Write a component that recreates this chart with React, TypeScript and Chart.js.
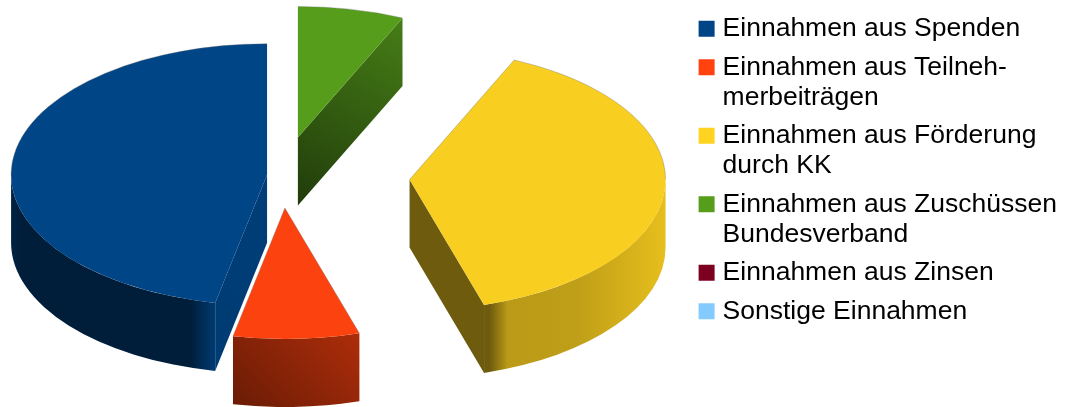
import React, { useEffect, useRef } from "react";
import { Chart, registerables } from "chart.js";

Chart.register(...registerables);

const categories = [
  ["Einnahmen aus Spenden"],
  ["Einnahmen aus Teilneh-", "merbeiträgen"],
  ["Einnahmen aus Förderung", "durch KK"],
  ["Einnahmen aus Zuschüssen", "Bundesverband"],
  ["Einnahmen aus Zinsen"],
  ["Sonstige Einnahmen"],
];
const shares = [46.75, 7.95, 38.6, 6.7, 0, 0];
const colors = ["#004586", "#ff420e", "#ffd320", "#579d1c", "#7e0021", "#83caff"];
const topColors = ["#004586", "#fc430f", "#f8ce20", "#579d1c", "#7e0021", "#83caff"];

const RX = 256;
const SQUASH = 131 / 256;
const DEPTH = 68;
const explode = [15, 63.6, 127.8, 76, 0, 0];

type Stops = [number, number][];
const wallStops: Stops[] = [
  [[0, 0.5], [0.05, 0.43], [0.88, 0.43], [1, 0.85]],
  [[0, 0.68], [1, 0.42]],
  [[0, 0.43], [0.03, 0.43], [0.13, 0.73], [0.5, 0.75], [1, 0.9]],
  [],
];
const wallDiag = [false, true, false, false];
const cutStops: Stops[] = [
  [[0, 0.9], [1, 0.85]],
  [],
  [[0, 0.43], [1, 0.43]],
  [[0, 0.8], [1, 0.38]],
];

function shade(hex: string, f: number) {
  const n = parseInt(hex.slice(1), 16);
  const r = Math.round(((n >> 16) & 255) * f);
  const g = Math.round(((n >> 8) & 255) * f);
  const b = Math.round((n & 255) * f);
  return `rgb(${r},${g},${b})`;
}

const pie3d = {
  id: "pie3d",
  afterLayout(chart: any) {
    // the pie sits in the space left of the legend
    chart.chartArea.left = 0;
    chart.chartArea.right = 564;
    chart.chartArea.top = 0;
    chart.chartArea.bottom = 351;
    chart.chartArea.width = 564;
    chart.chartArea.height = 351;
    chart.legend.left -= 4;
    chart.legend.right -= 4;
  },
  beforeDatasetsDraw(chart: any) {
    const ctx: CanvasRenderingContext2D = chart.ctx;
    const arcs = chart.getDatasetMeta(0).data;
    let cursor = -Math.PI / 2;
    const slices: any[] = [];
    arcs.forEach((arc: any, i: number) => {
      const sweep = arc.circumference;
      const te = cursor;
      const ts = cursor - sweep;
      cursor = ts;
      if (sweep <= 0) return;
      const mid = (ts + te) / 2;
      const d = arc.options.offset;
      const r = arc.outerRadius;
      slices.push({
        i,
        ts,
        te,
        r,
        ry: r * SQUASH,
        cx: arc.x + d * Math.cos(mid),
        cy: arc.y + d * SQUASH * Math.sin(mid),
      });
    });
    slices.sort((a, b) => a.cy - b.cy);

    const grad = (x0: number, y0: number, x1: number, y1: number, base: string, stops: Stops) => {
      const g = ctx.createLinearGradient(x0, y0, x1, y1);
      stops.forEach(([p, f]) => g.addColorStop(p, shade(base, f)));
      return g;
    };

    ctx.save();
    slices.forEach((s) => {
      const base = colors[s.i];
      const px = (t: number) => s.cx + s.r * Math.cos(t);
      const py = (t: number) => s.cy + s.ry * Math.sin(t);

      const cut = (t: number) => {
        const ex = px(t);
        const ey = py(t);
        ctx.beginPath();
        ctx.moveTo(s.cx, s.cy);
        ctx.lineTo(ex, ey);
        ctx.lineTo(ex, ey + DEPTH);
        ctx.lineTo(s.cx, s.cy + DEPTH);
        ctx.closePath();
        const stops = cutStops[s.i];
        if (s.i === 3) ctx.fillStyle = grad(ex, ey, s.cx, s.cy + DEPTH, base, stops);
        else ctx.fillStyle = grad(s.cx, s.cy, ex, ey + DEPTH, base, stops);
        ctx.fill();
      };
      if (Math.cos(s.ts) < -1e-6 && cutStops[s.i].length) cut(s.ts);
      if (Math.cos(s.te) > 1e-6 && cutStops[s.i].length) cut(s.te);

      [-2 * Math.PI, 0, 2 * Math.PI].forEach((shift) => {
        const a = Math.max(s.ts + shift, 0);
        const b = Math.min(s.te + shift, Math.PI);
        if (b <= a || !wallStops[s.i].length) return;
        ctx.beginPath();
        ctx.ellipse(s.cx, s.cy, s.r, s.ry, 0, a, b, false);
        ctx.ellipse(s.cx, s.cy + DEPTH, s.r, s.ry, 0, b, a, true);
        ctx.closePath();
        const xa = px(a);
        const xb = px(b);
        const left = Math.min(xa, xb, b > Math.PI - 1e-6 ? s.cx - s.r : Infinity);
        const right = Math.max(xa, xb, a < 1e-6 ? s.cx + s.r : -Infinity);
        if (wallDiag[s.i]) {
          const top = Math.min(py(a), py(b));
          const h = Math.max(py(a), py(b)) + DEPTH - top;
          const l = (right - left + h) / 2;
          ctx.fillStyle = grad(right, top, right - l, top + l, base, wallStops[s.i]);
        } else {
          ctx.fillStyle = grad(left, 0, right, 0, base, wallStops[s.i]);
        }
        ctx.fill();
      });

      ctx.beginPath();
      ctx.moveTo(s.cx, s.cy);
      ctx.ellipse(s.cx, s.cy, s.r, s.ry, 0, s.ts, s.te, false);
      ctx.closePath();
      ctx.fillStyle = topColors[s.i];
      ctx.fill();

      // faint grey line on the exposed back edges of the top face
      ctx.strokeStyle = "rgba(110,110,110,0.45)";
      ctx.lineWidth = 0.75;
      [-2 * Math.PI, 0, 2 * Math.PI].forEach((shift) => {
        const a = Math.max(s.ts + shift, -Math.PI);
        const b = Math.min(s.te + shift, 0);
        if (b <= a) return;
        ctx.beginPath();
        ctx.ellipse(s.cx, s.cy, s.r, s.ry, 0, a, b, false);
        ctx.stroke();
      });
      const edge = (t: number) => {
        ctx.beginPath();
        ctx.moveTo(s.cx, s.cy);
        ctx.lineTo(px(t), py(t));
        ctx.stroke();
      };
      if (Math.cos(s.ts) > 1e-6) edge(s.ts);
      if (Math.cos(s.te) < -1e-6) edge(s.te);
    });
    ctx.restore();
    return false;
  },
};

export default function App() {
  const ref = useRef<HTMLCanvasElement>(null);
  useEffect(() => {
    document.body.style.margin = "0";
    const chart = new Chart(ref.current as HTMLCanvasElement, {
      type: "pie",
      data: {
        labels: categories as any,
        datasets: [
          {
            data: shares,
            backgroundColor: colors,
            borderWidth: 0,
            offset: explode,
          } as any,
        ],
      },
      options: {
        responsive: false,
        animation: false,
        radius: RX,
        layout: { padding: { left: 0, right: 0, top: 7, bottom: 0 } },
        events: [],
        plugins: {
          tooltip: { enabled: false },
          legend: {
            position: "right",
            align: "start",
            labels: {
              usePointStyle: true,
              pointStyle: "rect",
              boxWidth: 5.5,
              boxHeight: 16,
              padding: 8.5,
              color: "#000",
              font: { family: "'Liberation Sans'", size: 26.5, lineHeight: 30 / 26.5 },
            },
          },
        },
      } as any,
      plugins: [pie3d],
    });
    return () => chart.destroy();
  }, []);
  return <canvas ref={ref} width={1071} height={407} style={{ display: "block" }} />;
}
